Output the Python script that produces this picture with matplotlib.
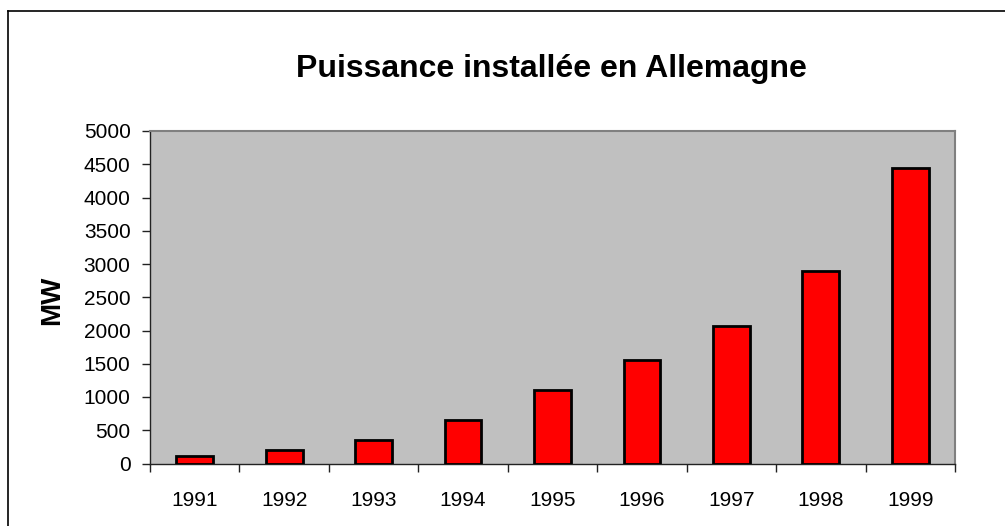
import matplotlib
matplotlib.use("Agg")
import matplotlib.pyplot as plt
from matplotlib.lines import Line2D

years = ["1991", "1992", "1993", "1994", "1995", "1996", "1997", "1998", "1999"]
power_mw = [110, 200, 350, 650, 1100, 1560, 2070, 2890, 4440]
y_ticks = [0, 500, 1000, 1500, 2000, 2500, 3000, 3500, 4000, 4500, 5000]

plt.rcParams['font.family'] = ['Liberation Sans', 'DejaVu Sans']

W, H = 1005, 526
fig = plt.figure(figsize=(W / 100, H / 100), dpi=100)
ax = fig.add_axes([150 / W, 62.5 / H, 805 / W, 332.5 / H])
ax.set_facecolor('#C0C0C0')

x = range(len(years))
ax.bar(x, power_mw, width=0.41, color='#FF0000', edgecolor='black', linewidth=2, zorder=3)

ax.set_xlim(-0.5, len(years) - 0.5)
ax.set_ylim(0, 5000)
ax.set_yticks(y_ticks)
ax.set_yticklabels([str(v) for v in y_ticks], fontsize=15)

# category labels centred, tick marks between categories
ax.set_xticks([i - 0.5 for i in range(len(years) + 1)])
ax.set_xticklabels([])
ax.set_xticks(list(x), minor=True)
ax.set_xticklabels(years, minor=True, fontsize=15)
ax.tick_params(axis='x', which='minor', length=0, pad=20)
ax.tick_params(axis='x', which='major', length=6, width=1, direction='out', color='#222222')
ax.tick_params(axis='y', length=6, width=1, direction='out', color='#222222', pad=8)

for side in ['top', 'right']:
    ax.spines[side].set_color('#808080')
    ax.spines[side].set_linewidth(1.5)
for side in ['left', 'bottom']:
    ax.spines[side].set_color('#222222')
    ax.spines[side].set_linewidth(1)

fig.text(52.5 / W, 1 - 300 / H, 'MW', fontsize=20, fontweight='bold',
         rotation=90, ha='center', va='center')
fig.text(551 / W, 1 - 69 / H, 'Puissance installée en Allemagne', fontsize=23,
         fontweight='bold', ha='center', va='center')

# outer frame (left and top edges only)
fig.add_artist(Line2D([8 / W, 8 / W], [0, 1 - 11 / H], transform=fig.transFigure,
                      color='black', linewidth=1.2))
fig.add_artist(Line2D([8 / W, 1], [1 - 11 / H, 1 - 11 / H], transform=fig.transFigure,
                      color='black', linewidth=1.2))

fig.savefig('out.png', dpi=100)
